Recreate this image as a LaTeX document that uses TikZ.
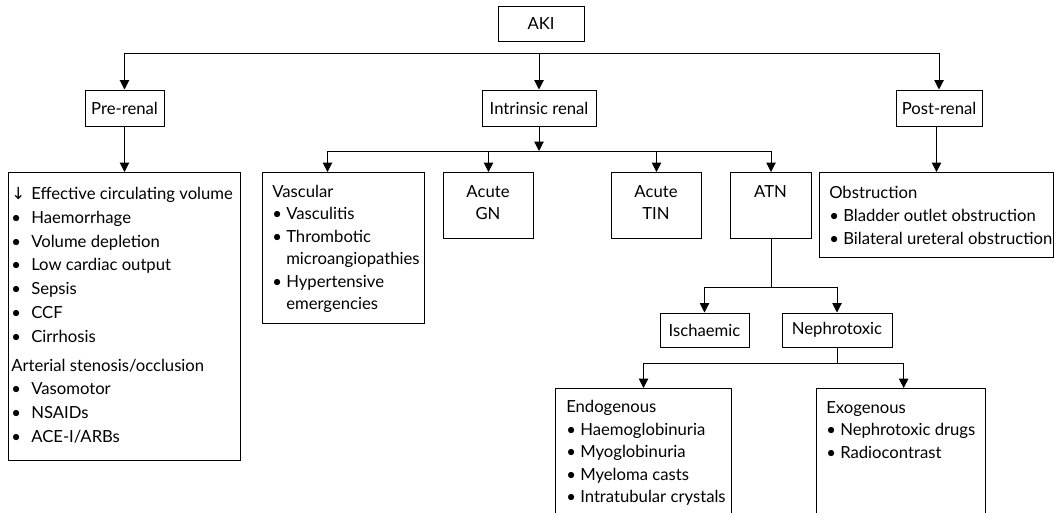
\documentclass[tikz,border=0pt]{standalone}
\usepackage{fontspec}
\setmainfont{Lato}
\newfontfamily\symfont{DejaVu Sans}
\usetikzlibrary{arrows.meta,positioning}

\newlength{\bulw}
\newcommand{\bitem}{\makebox[\bulw][l]{•}}
\newcommand{\bcont}{\hspace*{\bulw}}

\tikzset{
  box/.style={draw, line width=0.75pt, inner sep=0pt},
  arr/.style={-{Triangle[width=7pt,length=7pt]}, line width=0.75pt},
  link/.style={line width=0.75pt},
  lbl/.style={inner sep=0pt, font=\fontsize{12.5}{14}\selectfont},
  list/.style={inner sep=0pt, anchor=north west, align=left}
}

\begin{document}
\begin{tikzpicture}[x=0.75pt, y=-0.75pt]
\path[use as bounding box, clip] (0,0) rectangle (1055,512);

% top level
\node[box, lbl, minimum width=64.5pt, minimum height=26.25pt] (aki) at (541,23.5) {AKI};
\node[box, lbl, minimum width=59.25pt, minimum height=27pt] (pre) at (124.5,108) {Pre-renal};
\node[box, lbl, minimum width=85.5pt, minimum height=27pt] (intr) at (539,108) {Intrinsic renal};
\node[box, lbl, minimum width=64.5pt, minimum height=27pt] (post) at (939,108) {Post-renal};

% second level boxes
\node[box, anchor=north west, minimum width=174pt, minimum height=216pt] (prebox) at (8,172) {};
\node[box, anchor=north west, minimum width=121.5pt, minimum height=113.25pt] (vasc) at (262,172) {};
\node[box, anchor=north west, minimum width=67.5pt, minimum height=49.5pt] (gn) at (443,172) {};
\node[box, anchor=north west, minimum width=67.5pt, minimum height=49.5pt] (tin) at (611,172) {};
\node[box, anchor=north west, minimum width=60.75pt, minimum height=49.5pt] (atn) at (730,172) {};
\node[box, anchor=north west, minimum width=175.5pt, minimum height=63.75pt] (obst) at (819,172) {};

% ATN branch
\node[box, lbl, minimum width=66.75pt, minimum height=25.5pt] (isch) at (704.5,330) {Ischaemic};
\node[box, lbl, minimum width=82.5pt, minimum height=25.5pt] (nephro) at (837,330) {Nephrotoxic};
\node[box, anchor=north west, minimum width=132pt, minimum height=120pt] (endo) at (555,388) {};
\node[box, anchor=north west, minimum width=126.75pt, minimum height=120pt] (exo) at (816,388) {};

% box texts
\setlength{\bulw}{15pt}
\node[list, font=\fontsize{12.5}{17.85}\selectfont] (prebox-t) at (11,187)
  {\makebox[\bulw][l]{\symfont ↓}Effective circulating volume\\
   \bitem Haemorrhage\\ \bitem Volume depletion\\ \bitem Low cardiac output\\
   \bitem Sepsis\\ \bitem CCF\\ \bitem Cirrhosis\\[3.75pt]
   Arterial stenosis/occlusion\\
   \bitem Vasomotor\\ \bitem NSAIDs\\ \bitem ACE-I/ARBs};
\setlength{\bulw}{10.5pt}
\node[list, font=\fontsize{12.5}{16.8}\selectfont] (vasc-t) at (272,185)
  {Vascular\\ \bitem Vasculitis\\ \bitem Thrombotic\\
   \bcont microangiopathies\\ \bitem Hypertensive\\ \bcont emergencies};
\node[list, anchor=north, align=center, font=\fontsize{12.5}{16.5}\selectfont] (gn-t) at (488,185) {Acute\\GN};
\node[list, anchor=north, align=center, font=\fontsize{12.5}{16.5}\selectfont] (tin-t) at (656,185) {Acute\\TIN};
\node[list, anchor=north, font=\fontsize{12.5}{16.5}\selectfont] (atn-t) at (770.5,185) {ATN};
\node[list, font=\fontsize{12.5}{17.25}\selectfont] (obst-t) at (829,186)
  {Obstruction\\ \bitem Bladder outlet obstruction\\
   \bitem Bilateral ureteral obstruction};
\node[list, font=\fontsize{12.5}{16.9}\selectfont] (endo-t) at (566,400)
  {Endogenous\\ \bitem Haemoglobinuria\\ \bitem Myoglobinuria\\
   \bitem Myeloma casts\\ \bitem Intratubular crystals};
\node[list, font=\fontsize{12.5}{16.9}\selectfont] (exo-t) at (826,401)
  {Exogenous\\ \bitem Nephrotoxic drugs\\ \bitem Radiocontrast};

% connectors
\coordinate (bar1) at (539,53);
\draw[arr] (bar1 -| pre.north) -- (pre.north);
\draw[link] (bar1 -| pre.north) -- (bar1 -| post.north);
\draw[arr] (bar1) -- (intr.north);
\draw[arr] (bar1 -| post.north) -- (post.north);
\draw[arr] (pre.south) -- (prebox.north);
\draw[arr] (obst.north |- post.south) -- (obst.north);

\coordinate (bar2) at (539,151);
\draw[arr] (intr.south) -- (bar2);
\draw[arr] (bar2) -| ([xshift=-12pt]vasc.north);
\draw[arr] (bar2) -| (gn.north);
\draw[arr] (bar2) -| (tin.north);
\draw[arr] (bar2) -| (atn.north);

\coordinate (bar3) at (771,287);
\draw[link] (atn.south) -- (bar3);
\draw[arr] (bar3) -| (isch.north);
\draw[arr] (bar3) -| (nephro.north);

\coordinate (bar4) at (837,363);
\draw[link] (nephro.south) -- (bar4);
\draw[arr] (bar4) -| (endo.north);
\draw[arr] (bar4) -| ([xshift=2pt]exo.north);
\end{tikzpicture}
\end{document}
